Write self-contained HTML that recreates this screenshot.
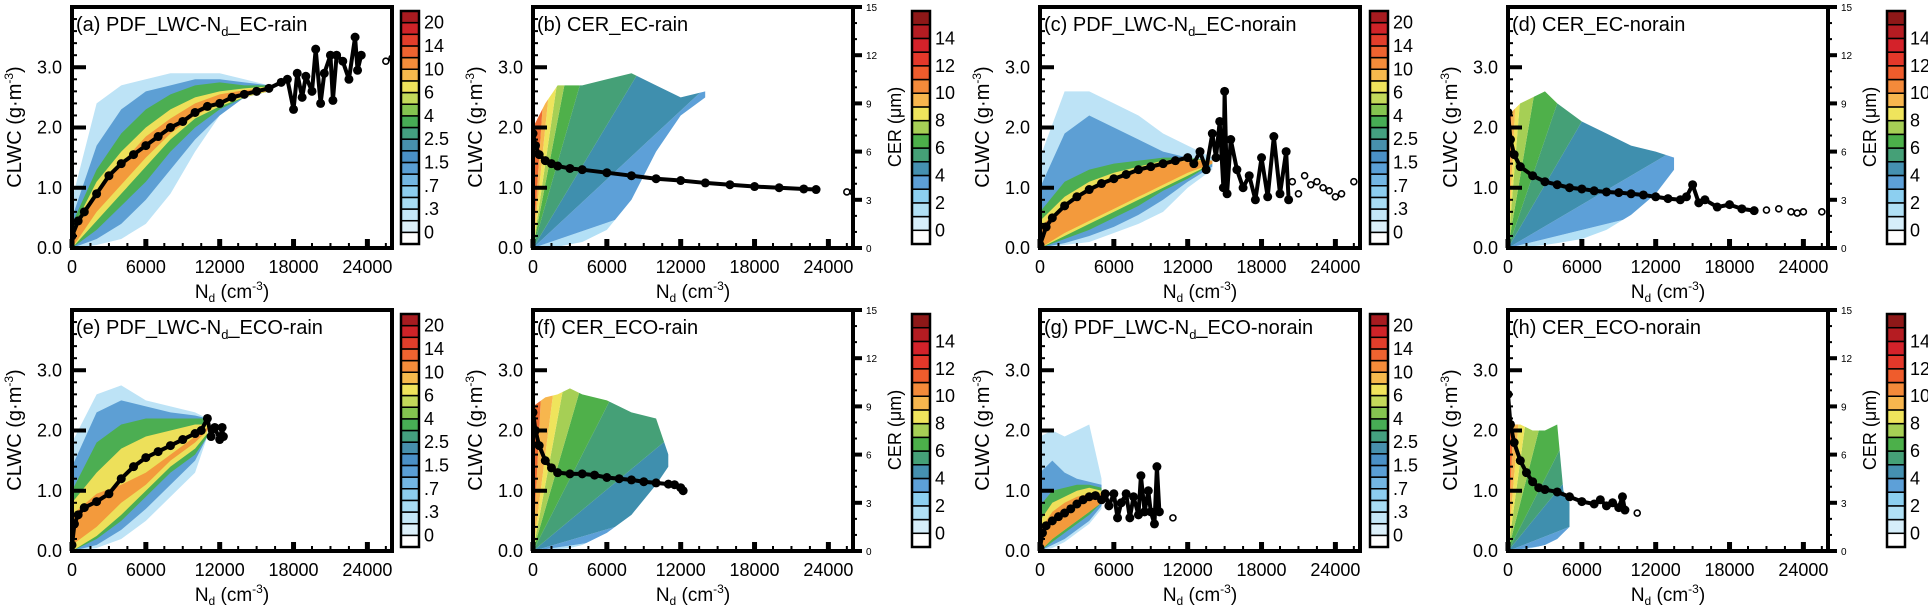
<!DOCTYPE html>
<html><head><meta charset="utf-8"><style>
body{margin:0;background:#fff;}
svg text{font-family:"Liberation Sans",sans-serif;fill:#000;}
</style></head><body>
<svg id="fig" width="1928" height="608" xmlns="http://www.w3.org/2000/svg"></svg>
<script>
// ---------- DATA ----------
const xTicks=[0,6000,12000,18000,24000];
const yTicks=[0,1,2,3];
const yTickLabels=["0.0","1.0","2.0","3.0"];
const cerTicks=[0,3,6,9,12,15];
const pdfCbLabels=["0",".3",".7","1.5","2.5","4","6","10","14","20"];
const cerCbLabels=["0","2","4","6","8","10","12","14"];
const pdfCbColors=["#ffffff","#dcf0fa","#c4e7f8","#a7dcf4","#8ccdef","#73b6e3","#5a9fd6","#4a90c6","#4790ad","#44a080","#47ad55","#84c450","#c3d95a","#f0e35c","#f6b94d","#f48c3a","#ef6330","#e23e2b","#cf2328","#a81b20"];
const cerCbColors=["#ffffff","#d6eefa","#b0e0f5","#8ccff0","#5da0d8","#4590b0","#45a077","#4cb04a","#a6cf55","#efe45c","#f7b64e","#f48a3a","#ef5c2c","#e4382a","#d4222a","#b51c22","#8e1818"];
const pdfLevelColors=["#bde3f6","#5d9fd4","#4cae52","#ede05a","#f39a3c"];
const cerWedgeColors=["#b3e0f6","#5da0d8","#3f8fae","#45a077","#4fb04a","#a6cf55","#efe45c","#f7b64e","#ef6a30"];

// panel (a)
const aXs=[0,2000,4000,6000,8000,10000,12000,14000,16000];
const aUp=[[0.8,2.4,2.7,2.8,2.9,2.9,2.9,2.8,2.7],[0.5,1.7,2.3,2.6,2.7,2.8,2.8,2.75,2.7],[0.4,1.3,1.9,2.3,2.55,2.7,2.75,2.7,2.7],[0.3,1.1,1.6,2.0,2.3,2.5,2.6,2.65,2.68],[0.2,0.9,1.4,1.85,2.15,2.4,2.55,2.62,2.66]];
const aLo=[[0,0.05,0.15,0.4,0.9,1.6,2.2,2.5,2.65],[0,0.15,0.4,0.8,1.3,1.8,2.2,2.5,2.6],[0,0.3,0.7,1.1,1.6,2.0,2.3,2.5,2.6],[0,0.45,0.9,1.35,1.8,2.15,2.35,2.5,2.6],[0,0.6,1.05,1.5,1.9,2.2,2.4,2.55,2.6]];
const aMeanN=[0,500,1000,2000,3000,4000,5000,6000,7000,8000,9000,10000,11000,12000,13000,14000,15000,16000,17000,17500,18000,18300,18700,19000,19500,19800,20200,20500,21000,21200,21500,22000,22500,23000,23200,23500];
const aMeanV=[0.2,0.45,0.6,0.9,1.2,1.4,1.55,1.7,1.85,2.0,2.1,2.25,2.35,2.4,2.5,2.55,2.6,2.65,2.75,2.8,2.3,2.9,2.5,2.85,2.6,3.3,2.4,2.9,3.2,2.45,3.2,3.1,2.8,3.5,2.95,3.2];
const aOpenN=[25500,26000];const aOpenV=[3.1,3.15];

// panel (b)
const bEnvN=[0,1000,2000,4000,6000,8000,10000,12000,14000];
const bEnvUp=[2.0,2.4,2.7,2.7,2.8,2.9,2.7,2.5,2.6];
const bEnvLo=[0,0,0.02,0.1,0.3,0.8,1.6,2.2,2.5];
const bSlopes=[0.07,0.19,0.34,0.71,1.06,1.4,2.0,3.0];
const bMeanN=[0,200,500,1000,1500,2000,3000,4000,6000,8000,10000,12000,14000,16000,18000,20000,22000,23000];
const bMeanV=[1.9,1.7,1.55,1.45,1.4,1.36,1.32,1.3,1.25,1.2,1.15,1.12,1.08,1.05,1.02,1.0,0.98,0.97];
const bOpenN=[25500,26000];const bOpenV=[0.93,0.93];

// panel (c)
const cXs=[0,2000,4000,6000,8000,10000,12000,14000];
const cUp=[[1.5,2.6,2.6,2.4,2.2,1.9,1.7,1.5],[1.0,1.9,2.2,2.0,1.8,1.6,1.5,1.4],[0.6,1.1,1.3,1.4,1.45,1.5,1.5,1.45],[0.45,0.85,1.1,1.25,1.35,1.45,1.48,1.45],[0.35,0.72,0.95,1.15,1.3,1.4,1.45,1.45]];
const cLo=[[0,0.05,0.1,0.25,0.4,0.6,1.0,1.3],[0,0.08,0.2,0.35,0.55,0.8,1.1,1.35],[0,0.15,0.3,0.5,0.7,0.95,1.15,1.4],[0,0.2,0.4,0.6,0.8,1.0,1.2,1.4],[0,0.25,0.45,0.65,0.85,1.05,1.25,1.4]];
const cMeanN=[0,500,1000,2000,3000,4000,5000,6000,7000,8000,9000,10000,11000,12000,12500,13000,13500,14000,14300,14600,14900,15000,15200,15500,16000,16500,17000,17500,18000,18500,19000,19500,20000,20200];
const cMeanV=[0.05,0.35,0.5,0.7,0.85,0.97,1.07,1.15,1.22,1.3,1.35,1.4,1.45,1.5,1.4,1.6,1.3,1.9,1.5,2.1,1.0,2.6,0.9,1.8,1.3,1.0,1.2,0.8,1.5,0.85,1.85,0.9,1.6,0.8];
const cOpenN=[20500,21000,21500,22000,22500,23000,23500,24000,24500,25500];
const cOpenV=[1.1,0.9,1.2,1.05,1.1,1.0,0.95,0.85,0.9,1.1];

// panel (d)
const dEnvN=[0,1000,2000,3000,4000,6000,8000,10000,12000,13500];
const dEnvUp=[2.2,2.4,2.5,2.6,2.4,2.1,1.9,1.7,1.6,1.5];
const dEnvLo=[0,0.02,0.03,0.05,0.08,0.15,0.3,0.55,0.9,1.3];
const dSlopes=[0.05,0.12,0.35,0.6,1.2,2.5,4,8];
const dMeanN=[0,200,500,1000,2000,3000,4000,5000,6000,7000,8000,9000,10000,11000,12000,13000,14000,14500,15000,15500,16000,17000,18000,19000,20000];
const dMeanV=[2.25,1.8,1.55,1.35,1.2,1.1,1.05,1.0,0.98,0.95,0.93,0.92,0.9,0.88,0.85,0.82,0.8,0.85,1.05,0.75,0.8,0.68,0.72,0.65,0.62];
const dOpenN=[21000,22000,23000,23500,24000,25500];
const dOpenV=[0.63,0.65,0.6,0.58,0.6,0.6];

// panel (e)
const eXs=[0,2000,4000,6000,8000,10000,11000];
const eUp=[[1.8,2.6,2.75,2.5,2.4,2.3,2.2],[1.4,2.3,2.5,2.4,2.3,2.25,2.2],[1.0,1.8,2.1,2.2,2.2,2.2,2.2],[0.8,1.3,1.7,1.9,2.0,2.1,2.1],[0.6,0.95,1.1,1.3,1.6,1.9,2.05]];
const eLo=[[0,0.05,0.2,0.5,0.9,1.3,1.9],[0,0.1,0.35,0.7,1.1,1.5,1.9],[0,0.2,0.5,0.9,1.3,1.6,1.9],[0,0.25,0.6,1.0,1.4,1.7,1.95],[0.1,0.4,0.8,1.1,1.5,1.8,2.0]];
const eMeanN=[0,200,500,1000,2000,3000,4000,5000,6000,7000,8000,9000,10000,10500,11000,11300,11600,12000,12200,12300];
const eMeanV=[0.1,0.45,0.6,0.72,0.82,0.95,1.2,1.4,1.55,1.65,1.75,1.85,1.95,2.0,2.2,1.9,2.05,1.85,2.05,1.9];
const eOpenN=[];const eOpenV=[];

// panel (f)
const fEnvN=[0,1000,2000,3000,4000,6000,8000,10000,11000];
const fEnvUp=[2.4,2.55,2.6,2.7,2.6,2.5,2.3,2.2,1.6];
const fEnvLo=[0,0,0.03,0.05,0.1,0.3,0.6,1.1,1.4];
const fSlopes=[0.03,0.06,0.17,0.4,0.7,1.1,1.6,4];
const fMeanN=[0,200,500,1000,1500,2000,3000,4000,5000,6000,7000,8000,9000,10000,11000,11500,12000,12200];
const fMeanV=[2.3,2.0,1.75,1.5,1.38,1.3,1.28,1.28,1.26,1.22,1.2,1.18,1.15,1.13,1.11,1.1,1.05,1.0];
const fOpenN=[];const fOpenV=[];

// panel (g)
const gXs=[0,1000,2000,3000,4000,5000];
const gUp=[[1.9,2.0,1.9,2.0,2.1,1.2],[1.3,1.5,1.3,1.2,1.15,1.1],[0.75,1.0,1.05,1.1,1.1,1.05],[0.5,0.8,0.9,1.0,1.05,1.0],[0.35,0.65,0.8,0.9,0.95,0.95]];
const gLo=[[0,0.05,0.15,0.3,0.45,0.7],[0,0.1,0.2,0.35,0.5,0.75],[0,0.15,0.3,0.45,0.6,0.8],[0,0.2,0.35,0.5,0.65,0.85],[0,0.2,0.35,0.5,0.65,0.8]];
const gMeanN=[0,200,500,1000,1500,2000,2500,3000,3500,4000,4500,5000,5300,5600,6000,6300,6600,7000,7300,7600,8000,8200,8500,8800,9000,9300,9500,9700];
const gMeanV=[0.05,0.3,0.42,0.5,0.57,0.63,0.7,0.78,0.85,0.9,0.92,0.85,0.95,0.75,0.95,0.55,0.8,0.95,0.55,0.9,0.6,1.25,0.65,1.0,0.65,0.45,1.4,0.65];
const gOpenN=[10800];const gOpenV=[0.55];

// panel (h)
const hEnvN=[0,1000,2000,3000,4000,4500,5000];
const hEnvUp=[2.1,2.1,2.0,2.0,2.1,1.0,0.8];
const hEnvLo=[0,0.02,0.05,0.1,0.2,0.3,0.4];
const hSlopes=[0.03,0.08,0.25,0.4,0.8,1.5,2.5,5];
const hMeanN=[0,200,500,1000,1500,2000,2500,3000,4000,5000,6000,7000,7500,8000,8500,9000,9300,9500];
const hMeanV=[2.6,2.1,1.8,1.5,1.3,1.15,1.05,1.02,0.98,0.9,0.82,0.78,0.85,0.75,0.8,0.72,0.9,0.68];
const hOpenN=[10500];const hOpenV=[0.63];

// ---------- DRAW ----------
const NS="http://www.w3.org/2000/svg";
const svg=document.getElementById('fig');
function mk(tag,attrs,parent){const e=document.createElementNS(NS,tag);for(const k in attrs)e.setAttribute(k,attrs[k]);(parent||svg).appendChild(e);return e;}
const W=320,H=241,XMAX=26000,YMAX=4.0;

const panels=[
 {id:'a',type:'pdf',x0:72,y0:7,cb:401,title:'EC-rain',xs:aXs,up:aUp,lo:aLo,mN:aMeanN,mV:aMeanV,oN:aOpenN,oV:aOpenV},
 {id:'b',type:'cer',x0:533,y0:7,cb:912,title:'EC-rain',eN:bEnvN,eU:bEnvUp,eL:bEnvLo,sl:bSlopes,mN:bMeanN,mV:bMeanV,oN:bOpenN,oV:bOpenV},
 {id:'c',type:'pdf',x0:1040,y0:7,cb:1370,title:'EC-norain',xs:cXs,up:cUp,lo:cLo,mN:cMeanN,mV:cMeanV,oN:cOpenN,oV:cOpenV},
 {id:'d',type:'cer',x0:1508,y0:7,cb:1887,title:'EC-norain',eN:dEnvN,eU:dEnvUp,eL:dEnvLo,sl:dSlopes,mN:dMeanN,mV:dMeanV,oN:dOpenN,oV:dOpenV},
 {id:'e',type:'pdf',x0:72,y0:310,cb:401,title:'ECO-rain',xs:eXs,up:eUp,lo:eLo,mN:eMeanN,mV:eMeanV,oN:eOpenN,oV:eOpenV},
 {id:'f',type:'cer',x0:533,y0:310,cb:912,title:'ECO-rain',eN:fEnvN,eU:fEnvUp,eL:fEnvLo,sl:fSlopes,mN:fMeanN,mV:fMeanV,oN:fOpenN,oV:fOpenV},
 {id:'g',type:'pdf',x0:1040,y0:310,cb:1370,title:'ECO-norain',xs:gXs,up:gUp,lo:gLo,mN:gMeanN,mV:gMeanV,oN:gOpenN,oV:gOpenV},
 {id:'h',type:'cer',x0:1508,y0:310,cb:1887,title:'ECO-norain',eN:hEnvN,eU:hEnvUp,eL:hEnvLo,sl:hSlopes,mN:hMeanN,mV:hMeanV,oN:hOpenN,oV:hOpenV}
];

panels.forEach(p=>{
  const X=n=>p.x0+n/XMAX*W;
  const Y=v=>p.y0+H-v/YMAX*H;
  const g=mk('g',{});
  
  
  const clipId='clip'+p.id;
  const cp=mk('clipPath',{id:clipId},g);
  mk('rect',{x:p.x0,y:p.y0,width:W,height:H},cp);
  const plot=mk('g',{'clip-path':'url(#'+clipId+')'},g);
  if(p.type==='pdf'){
    p.up.forEach((u,k)=>{
      let pts=p.xs.map((n,i)=>X(n)+','+Y(u[i]));
      pts=pts.concat(p.xs.slice().reverse().map((n,i)=>X(n)+','+Y(p.lo[k][p.xs.length-1-i])));
      const poly=mk('polygon',{points:pts.join(' '),fill:pdfLevelColors[k]},plot);
      
      
    });
  } else {
    const eid='env'+p.id;
    const ecp=mk('clipPath',{id:eid},g);
    let pts=p.eN.map((n,i)=>X(n)+','+Y(p.eU[i]));
    pts=pts.concat(p.eN.slice().reverse().map((n,i)=>X(n)+','+Y(p.eL[p.eN.length-1-i])));
    mk('polygon',{points:pts.join(' ')},ecp);
    const wg=mk('g',{'clip-path':'url(#'+eid+')'},plot);
    const nMax=p.eN[p.eN.length-1];
    const bounds=[0].concat(p.sl).concat([1000]);
    for(let i=0;i<bounds.length-1;i++){
      const s0=bounds[i],s1=bounds[i+1];
      const w=mk('polygon',{points:[X(0)+','+Y(0),X(nMax)+','+Y(s0*nMax/1000),X(nMax)+','+Y(s1*nMax/1000)].join(' '),fill:cerWedgeColors[i]},wg);
      
      
    }
  }
  // mean line
  const line=mk('polyline',{points:p.mN.map((n,i)=>X(n)+','+Y(p.mV[i])).join(' '),fill:'none',stroke:'#000','stroke-width':4,'stroke-linejoin':'round'},plot);
  
  
  p.mN.forEach((n,i)=>{
    const c=mk('circle',{cx:X(n),cy:Y(p.mV[i]),r:4.5,fill:'#000'},plot);
    
    
  });
  p.oN.forEach((n,i)=>{
    const c=mk('circle',{cx:X(n),cy:Y(p.oV[i]),r:3,fill:'#fff',stroke:'#000','stroke-width':1.6},plot);
    
    
  });
  // frame
  mk('rect',{x:p.x0,y:p.y0,width:W,height:H,fill:'none',stroke:'#000','stroke-width':4},g);
  // ticks
  for(let v=0;v<=3.8001;v+=0.2){const yy=Y(v);mk('line',{x1:p.x0,x2:p.x0+5,y1:yy,y2:yy,stroke:'#000','stroke-width':2},g);}
  yTicks.forEach((v,i)=>{
    mk('line',{x1:p.x0,x2:p.x0+14,y1:Y(v),y2:Y(v),stroke:'#000','stroke-width':4},g);
    const t=mk('text',{x:p.x0-10,y:Y(v)+6,'font-size':18,'text-anchor':'end'},g);t.textContent=yTickLabels[i];
    
    
  });
  for(let n=0;n<=XMAX;n+=1500){mk('line',{x1:X(n),x2:X(n),y1:p.y0+H,y2:p.y0+H-5,stroke:'#000','stroke-width':2},g);}
  xTicks.forEach(n=>{
    mk('line',{x1:X(n),x2:X(n),y1:p.y0+H,y2:p.y0+H-9,stroke:'#000','stroke-width':5},g);
    const t=mk('text',{x:X(n),y:p.y0+H+25,'font-size':18,'text-anchor':'middle'},g);t.textContent=n;
    
    
  });
  // axis titles
  const xt=mk('text',{x:p.x0+W/2,y:p.y0+H+50,'font-size':19,'text-anchor':'middle'},g);
  xt.innerHTML='N<tspan font-size="12" dy="4">d</tspan><tspan dy="-4"> (cm</tspan><tspan font-size="12" dy="-8">-3</tspan><tspan dy="8">)</tspan>';
  
  
  const yt=mk('text',{x:0,y:0,'font-size':20,'text-anchor':'middle',transform:'translate('+(p.x0-51)+','+(p.y0+120)+') rotate(-90)'},g);
  yt.innerHTML='CLWC (g·m<tspan font-size="12" dy="-8">-3</tspan><tspan dy="8">)</tspan>';
  
  
  // title
  const tt=mk('text',{x:p.x0+4,y:p.y0+24,'font-size':20},g);
  if(p.type==='pdf') tt.innerHTML='('+p.id+') PDF_LWC-N<tspan font-size="13" dy="5">d</tspan><tspan dy="-5">_'+p.title+'</tspan>';
  else tt.textContent='('+p.id+') CER_'+p.title;
  
  
  // right CER axis
  if(p.type==='cer'){
    const R=p.x0+W;
    for(let c=0;c<=15;c++){const yy=p.y0+H-c/15*H;mk('line',{x1:R,x2:R+4,y1:yy,y2:yy,stroke:'#000','stroke-width':2},g);}
    cerTicks.forEach(c=>{
      const yy=p.y0+H-c/15*H;
      mk('line',{x1:R,x2:R+9,y1:yy,y2:yy,stroke:'#000','stroke-width':4},g);
      const t=mk('text',{x:R+13,y:yy+4,'font-size':10},g);t.textContent=c;
      
      
    });
    const ct=mk('text',{x:0,y:0,'font-size':18,'text-anchor':'middle',transform:'translate('+(R+48)+','+(p.y0+120)+') rotate(-90)'},g);
    ct.textContent='CER (μm)';
    
    
  }
  // colorbar
  const cols=p.type==='pdf'?pdfCbColors:cerCbColors;
  const labs=p.type==='pdf'?pdfCbLabels:cerCbLabels;
  const cbTop=p.y0+4,cbH=233,bh=cbH/cols.length;
  const cg=mk('g',{},g);
  
  
  cols.forEach((c,i)=>{
    mk('rect',{x:p.cb,y:cbTop+cbH-(i+1)*bh,width:18,height:bh,fill:c,stroke:'#000','stroke-width':1.5},cg);
  });
  mk('rect',{x:p.cb,y:cbTop,width:18,height:cbH,fill:'none',stroke:'#000','stroke-width':2.5},cg);
  labs.forEach((l,i)=>{
    const yy=cbTop+cbH-(1+2*i)*bh;
    const t=mk('text',{x:p.cb+23,y:yy+6,'font-size':18},cg);t.textContent=l;
    
    
  });
});
</script>
</body></html>
